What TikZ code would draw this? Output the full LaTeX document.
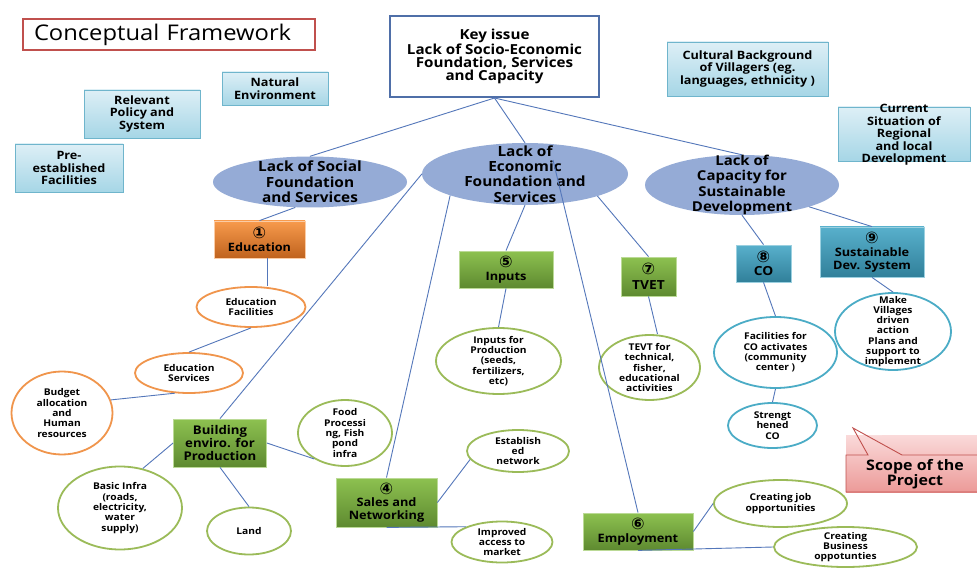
\documentclass[tikz,border=0pt]{standalone}
\usepackage{fontspec}
\setmainfont{Open Sans}[FakeStretch=1.1]
\newfontfamily\circfont{DejaVu Sans}
\usetikzlibrary{shapes.geometric,calc}
\definecolor{ellfill}{HTML}{95ABD6}
\definecolor{lineblue}{HTML}{5477BA}
\definecolor{titred}{HTML}{C0504D}
\definecolor{keyblue}{HTML}{4F6FA8}
\definecolor{lbtop}{HTML}{DDEFF6}
\definecolor{lbbot}{HTML}{A6D6E6}
\definecolor{lbborder}{HTML}{6FB5CC}
\definecolor{orell}{HTML}{F0954C}
\definecolor{grell}{HTML}{9BBB59}
\definecolor{blell}{HTML}{4BACC6}
\definecolor{ortop}{HTML}{F79A4C}
\definecolor{orbot}{HTML}{C0631E}
\definecolor{grtop}{HTML}{8DC150}
\definecolor{grbot}{HTML}{5E8A30}
\definecolor{bltop}{HTML}{58B0CC}
\definecolor{blbot}{HTML}{31809A}
\definecolor{sctop}{HTML}{FADADA}
\definecolor{scbot}{HTML}{EC9A98}
\newcommand\myfs[2]{\fontsize{#1}{#2}\selectfont}
\newcommand\cn[1]{{\circfont\fontsize{16}{13}\selectfont #1}}
\begin{document}
\begin{tikzpicture}[x=1pt,y=-1pt,font=\bfseries,
  conn/.style={draw=lineblue,line width=0.9pt},
  lbox/.style={draw=lbborder,line width=0.9pt,top color=lbtop,bottom color=lbbot,align=center,inner sep=0pt,font=\bfseries\myfs{11.5}{12.7}},
  bigell/.style={ellipse,fill=ellfill,inner sep=0pt},
  etext/.style={align=center,font=\bfseries\myfs{14}{15.4}},
  oell/.style={ellipse,draw=orell,line width=1.8pt,fill=white,inner sep=0pt},
  gell/.style={ellipse,draw=grell,line width=1.8pt,fill=white,inner sep=0pt},
  bell/.style={ellipse,draw=blell,line width=1.8pt,fill=white,inner sep=0pt},
  stext/.style={align=center,font=\bfseries\myfs{9.3}{10.3}},
  obox/.style={top color=ortop,bottom color=orbot,draw=ortop!50!white,line width=0.8pt,align=center,inner sep=0pt,font=\bfseries\myfs{11.5}{13}},
  gbox/.style={top color=grtop,bottom color=grbot,draw=grtop!60!white,line width=0.8pt,align=center,inner sep=0pt,font=\bfseries\myfs{11.6}{12.8}},
  bbox/.style={top color=bltop,bottom color=blbot,draw=bltop!60!white,line width=0.8pt,align=center,inner sep=0pt,font=\bfseries\myfs{12.5}{13}}
]
\useasboundingbox (0,0) rectangle (977,580);
\fill[white] (0,0) rectangle (977,580);

% title and key issue
\node[draw=titred,line width=1.8pt,minimum width=292,minimum height=31,inner sep=0pt,text width=270,align=left,font=\mdseries\myfs{21.6}{24}] (title) at (169,34.5) {Conceptual Framework};
\node[draw=keyblue,line width=2pt,fill=white,minimum width=209,minimum height=81,inner sep=0pt,align=center,font=\bfseries\myfs{13.8}{13.4}] (key) at (494.5,56.5) {Key issue\\Lack of Socio-Economic\\Foundation, Services\\and Capacity};

% context boxes
\node[lbox,minimum width=106,minimum height=33] (nat) at (275,88.5) {Natural\\Environment};
\node[lbox,minimum width=116,minimum height=48] (pol) at (142,114) {Relevant\\Policy and\\System};
\node[lbox,minimum width=108,minimum height=48] (pre) at (69,168) {Pre-\\established\\Facilities};
\node[lbox,minimum width=161,minimum height=54] (cul) at (747.5,69) {Cultural Background\\of Villagers (eg.\\languages, ethnicity )};
\node[lbox,minimum width=132,minimum height=54,text height=0pt,text depth=0pt] (cur) at (904,134) {};
\node[align=center,font=\bfseries\myfs{11.5}{12.5}] at (904,135) {Current\\Situation of\\Regional\\and local\\Development};

% big ellipses
\node[bigell,minimum width=194,minimum height=51,label={[etext]center:Lack of Social\\Foundation\\and Services}] (soc) at (310,182) {};
\node[bigell,minimum width=206,minimum height=62,label={[etext]center:Lack of\\Economic\\Foundation and\\Services}] (eco) at (525,174) {};
\node[bigell,minimum width=194,minimum height=60,label={[etext,font=\bfseries\myfs{13.6}{15.4}]center:Lack of\\Capacity for\\Sustainable\\Development}] (cap) at (742,185) {};

% category boxes
\node[obox,minimum width=91,minimum height=37] (edu) at (259.5,239.5) {\cn{①}\\Education};
\node[gbox,minimum width=93,minimum height=48,font=\bfseries\myfs{12}{12.7}] (bld) at (220,443) {Building\\enviro. for\\Production};
\node[gbox,minimum width=101,minimum height=49] (sal) at (386.5,502.5) {\cn{④}\\Sales and\\Networking};
\node[gbox,minimum width=94,minimum height=37] (inp) at (506,269.5) {\cn{⑤}\\Inputs};
\node[gbox,minimum width=110,minimum height=37] (emp) at (638,531.5) {\cn{⑥}\\Employment};
\node[gbox,minimum width=55,minimum height=39,font=\bfseries\myfs{12.5}{14.5}] (tvet) at (648.5,276.5) {\cn{⑦}\\TVET};
\node[bbox,minimum width=55,minimum height=37] (co) at (763.5,263.5) {\cn{⑧}\\CO};
\node[bbox,minimum width=104,minimum height=50,font=\bfseries\myfs{11.6}{12.8}] (sds) at (872,252) {\cn{⑨}\\Sustainable\\Dev. System};

% outcome ellipses
\node[oell,minimum width=109,minimum height=40,label={[stext]center:Education\\Facilities}] (efac) at (251,307) {};
\node[oell,minimum width=108,minimum height=40,label={[stext]center:Education\\Services}] (eser) at (189,373) {};
\node[oell,minimum width=101,minimum height=83,label={[stext]center:Budget\\allocation\\and\\Human\\resources}] (bud) at (62,413) {};
\node[gell,minimum width=94,minimum height=66,label={[stext]center:Food\\Processi\\ng, Fish\\pond\\infra}] (food) at (345,433) {};
\node[gell,minimum width=124,minimum height=83,label={[stext]center:Basic Infra\\(roads,\\electricity,\\water\\supply)}] (inf) at (120,508) {};
\node[gell,minimum width=84,minimum height=47,label={[stext]center:Land}] (land) at (249,531) {};
\node[gell,minimum width=102,minimum height=42,label={[stext]center:Establish\\ed\\network}] (est) at (518,451) {};
\node[gell,minimum width=101,minimum height=41,label={[stext]center:Improved\\access to\\market}] (imp) at (502,542) {};
\node[gell,minimum width=125,minimum height=66,label={[stext]center:Inputs for\\Production\\(seeds,\\fertilizers,\\etc)}] (ipr) at (498.5,361) {};
\node[gell,minimum width=101,minimum height=65,label={[stext]center:TEVT for\\technical,\\fisher,\\educational\\activities}] (tevt) at (649.5,367.5) {};
\node[gell,minimum width=133,minimum height=47,label={[stext]center:Creating job\\opportunities}] (job) at (780.5,503.5) {};
\node[gell,minimum width=143,minimum height=40,label={[stext]center:Creating\\Business\\oppotunties}] (bus) at (845.5,547) {};
\node[bell,minimum width=123,minimum height=71,label={[stext]center:Facilities for\\CO activates\\(community\\center )}] (cof) at (775.5,352.5) {};
\node[bell,minimum width=89,minimum height=45,label={[stext]center:Strengt\\hened\\CO}] (str) at (772.5,425.5) {};
\node[bell,minimum width=116,minimum height=77,label={[stext]center:Make\\Villages\\driven\\action\\Plans and\\support to\\implement}] (mak) at (893,331.5) {};

% scope callout
\fill[top color=sctop,bottom color=scbot] (846,435) rectangle (977,492);
\fill[white] (853,428) -- (868,435) -- (882,435) -- cycle;
\draw[titred,line width=0.9pt] (977,455) -- (902,455) -- (853,428) -- (868,455) -- (846,455) -- (846,492) -- (977,492);
\node[align=center,font=\bfseries\myfs{14.5}{15.5}] (scope) at (915,474) {Scope of the\\Project};

% connectors
\draw[conn] (key.south) -- (soc.north);
\draw[conn] (key.south) -- (eco.north);
\draw[conn] (key.south) -- (cap.north);
\draw[conn] (soc.240) -- (edu.north);
\draw[conn] ($(edu.south)+(7.5,0)$) -- ($(efac.north)+(16,0)$);
\draw[conn] (efac.south) -- (eser.north);
\draw[conn] (eser.235) -- (bud.15);
\draw[conn] (eco.west) -- (bld.north);
\draw[conn] (bld.east) -- (food.220);
\draw[conn] (bld.west) -- (inf.60);
\draw[conn] (bld.south) -- (land.north);
\draw[conn] (eco.196.8) -- (sal.north);
\draw[conn] (sal.east) -- (est.190);
\draw[conn] (sal.south) -- (imp.157);
\draw[conn] (eco.south) -- (inp.north);
\draw[conn] (inp.south) -- (ipr.north);
\draw[conn] ($(eco.center)+(28,-14)$) -- (emp.north);
\draw[conn] (eco.343.7) -- (tvet.north);
\draw[conn] (tvet.south) -- ($(tevt.north)+(8,0)$);
\draw[conn] (cap.south) -- (co.north);
\draw[conn] (cap.342.6) -- (sds.north);
\draw[conn] (co.south) -- (cof.north);
\draw[conn] (cof.south) -- (str.north);
\draw[conn] (sds.south) -- (mak.north);
\draw[conn] (emp.east) -- (job.west);
\draw[conn] (emp.south) -- (bus.west);
\end{tikzpicture}
\end{document}
